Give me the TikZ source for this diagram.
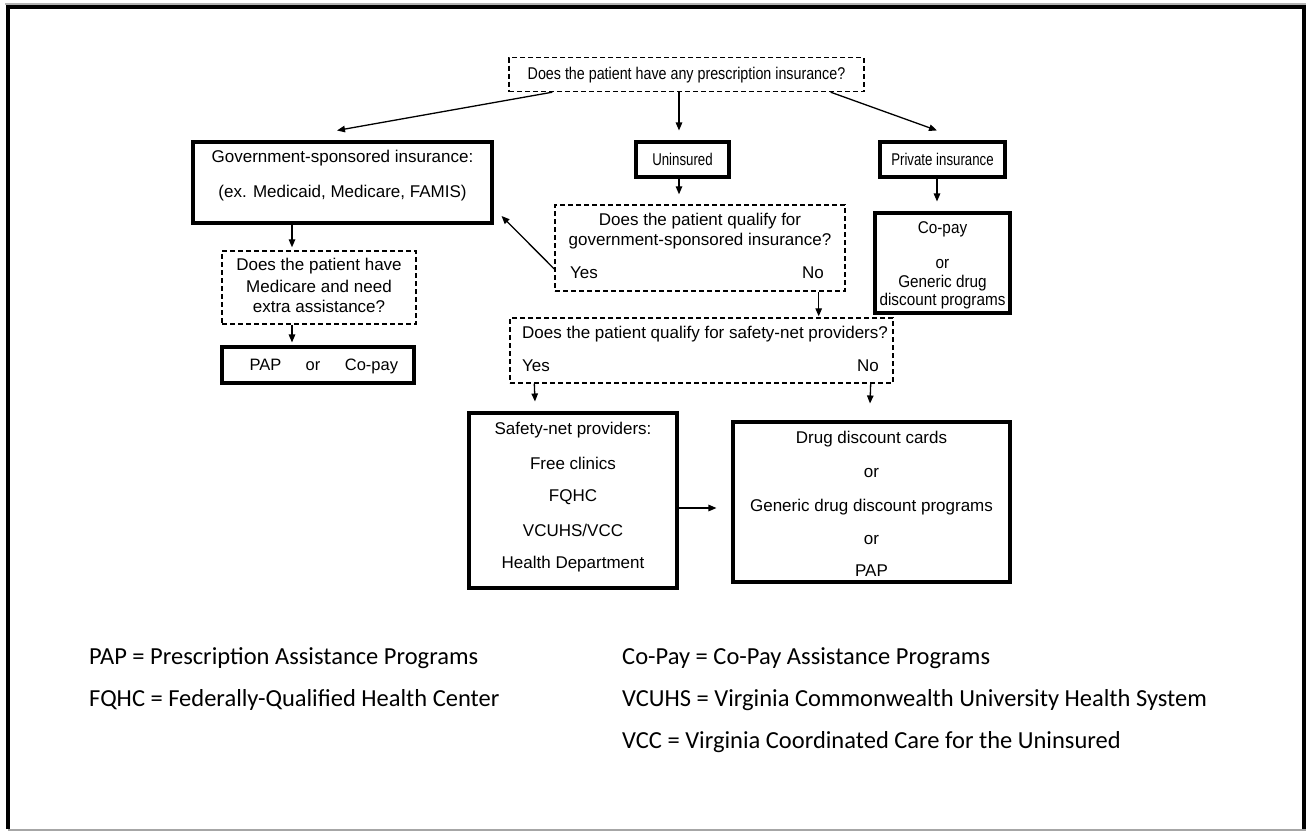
\documentclass[tikz,border=0pt]{standalone}
\usepackage{graphicx}
\usepackage{fontspec}
\setmainfont{Liberation Sans}
\newfontfamily\legendfont{Carlito}
\usetikzlibrary{arrows.meta,calc}
\newcommand{\narrow}[2]{\scalebox{#1}[1]{#2}}
\begin{document}
\begin{tikzpicture}[x=1pt,y=-1pt,
  solidbox/.style={draw,line width=3.1pt,inner sep=0pt},
  dashbox/.style={draw,line width=1.4pt,dash pattern=on 5pt off 3pt,inner sep=0pt},
  txt/.style={font=\fontsize{17}{19}\selectfont,inner sep=0pt},
  leg/.style={font=\legendfont\fontsize{24.5}{27}\selectfont,inner sep=0pt,anchor=west},
  arr/.style={line width=1.3pt,-{Triangle[length=8pt,width=6.5pt]}}]
\useasboundingbox (0,0) rectangle (1306,831);
% frame
\draw[gray!60,line width=1.2pt] (5,4) -- (1306,4);
\draw[gray!70,line width=1.5pt] (8,830) -- (1306,830);
\draw[line width=3.6pt,line join=miter] (8,829) -- (8,7) -- (1304,7) -- (1304,829);

% boxes
\node[dashbox,minimum width=355pt,minimum height=34pt] (q1) at (686.5,74.5) {};
\node[txt] at (686.5,75) {\narrow{0.84}{Does the patient have any prescription insurance?}};

\node[solidbox,minimum width=299pt,minimum height=81pt] (gov) at (342.5,182.5) {};
\node[txt] (govt1) at (342.5,158) {Government-sponsored insurance:};
\node[txt] (govt2) at (342.5,193) {(ex. Medicaid, Medicare, FAMIS)};

\node[solidbox,minimum width=93pt,minimum height=35pt,txt] (unins) at (682.5,159.5) {\narrow{0.78}{Uninsured}};
\node[solidbox,minimum width=125pt,minimum height=35pt,txt] (priv) at (942.5,159.5) {\narrow{0.78}{Private insurance}};

\node[dashbox,minimum width=290pt,minimum height=86pt] (q2) at (700,248) {};
\node[txt] at (700,221) {Does the patient qualify for};
\node[txt] at (700,241) {government-sponsored insurance?};
\node[txt] at (584,273) {Yes};
\node[txt] at (813,273) {No};

\node[solidbox,minimum width=135pt,minimum height=100pt] (copay) at (942.5,263) {};
\node[txt] at (942.5,229) {\narrow{0.9}{Co-pay}};
\node[txt] at (942.5,264) {\narrow{0.9}{or}};
\node[txt] at (942.5,283) {\narrow{0.9}{Generic drug}};
\node[txt] at (942.5,301) {\narrow{0.9}{discount programs}};

\node[dashbox,minimum width=194pt,minimum height=73pt] (q3) at (319,287.5) {};
\node[txt] at (319,266) {Does the patient have};
\node[txt] at (319,286) {Medicare and need};
\node[txt] at (319,306) {extra assistance?};

\node[solidbox,minimum width=192pt,minimum height=36pt] (pap) at (318,365) {};
\begin{scope}[txt/.append style={font=\fontsize{16.5}{18}\selectfont,anchor=base}]
\node[txt] at (265.5,370) {PAP};
\node[txt] at (313,370) {or};
\node[txt] at (371.5,370) {Co-pay};
\end{scope}

\node[dashbox,minimum width=383pt,minimum height=65pt] (q4) at (701.5,350.5) {};
\node[txt,anchor=west] at (522,334) {Does the patient qualify for safety-net providers?};
\node[txt,anchor=west] at (522,366) {Yes};
\node[txt,anchor=east] at (879,366) {No};

\node[solidbox,minimum width=208pt,minimum height=175pt] (safety) at (573,500.5) {};
\node[txt] at (573,430) {Safety-net providers:};
\node[txt] at (573,463) {Free clinics};
\node[txt] at (573,497) {FQHC};
\node[txt] at (573,530) {VCUHS/VCC};
\node[txt] at (573,564) {Health Department};

\node[solidbox,minimum width=277pt,minimum height=160pt] (drug) at (871.5,502) {};
\node[txt] at (871.5,439) {Drug discount cards};
\node[txt] at (871.5,473) {or};
\node[txt] at (871.5,507) {Generic drug discount programs};
\node[txt] at (871.5,540) {or};
\node[txt] at (871.5,571) {PAP};

% connectors
\draw[arr] ([xshift=44pt]q1.south west) -- ([xshift=-5.5pt,yshift=10pt]gov.north);
\draw[arr] ([xshift=-7.5pt]q1.south) -- ([xshift=-3.5pt,yshift=10pt]unins.north);
\draw[arr] ([xshift=-34pt]q1.south east) -- ([xshift=-5.5pt,yshift=10pt]priv.north);
\draw[arr] ([xshift=-3.5pt]unins.south) -- ([xshift=-21pt,yshift=10pt]q2.north);
\draw[arr] ([xshift=-5.5pt]priv.south) -- ([xshift=-5.5pt,yshift=10pt]copay.north);
\draw[arr] ([yshift=-21pt]q2.west) -- ([xshift=8pt,yshift=-33.5pt]gov.east);
\draw[arr] ([xshift=-50.5pt]gov.south) -- ([xshift=-27pt,yshift=3pt]q3.north);
\draw[arr] ([xshift=-27pt]q3.south) -- ([xshift=-26pt,yshift=3pt]pap.north);
\draw[arr] ([xshift=-27pt]q2.south east) -- ([xshift=-75pt,yshift=1pt]q4.north east);
\draw[arr] ([xshift=25pt]q4.south west) -- ([xshift=-38pt,yshift=10pt]safety.north);
\draw[arr] ([xshift=-23pt]q4.south east) -- ([xshift=-1.5pt,yshift=17pt]drug.north);
\draw[arr] ([yshift=-7.5pt]safety.east) -- ([xshift=-15pt,yshift=-6pt]drug.west);

% legend
\node[leg] (l1) at (89,658) {PAP = Prescription Assistance Programs};
\node[leg] (l2) at (89,700) {FQHC = Federally-Qualified Health Center};
\node[leg] (l3) at (622,658) {Co-Pay = Co-Pay Assistance Programs};
\node[leg] (l4) at (622,700) {VCUHS = Virginia Commonwealth University Health System};
\node[leg] (l5) at (622,742) {VCC = Virginia Coordinated Care for the Uninsured};
\end{tikzpicture}
\end{document}
